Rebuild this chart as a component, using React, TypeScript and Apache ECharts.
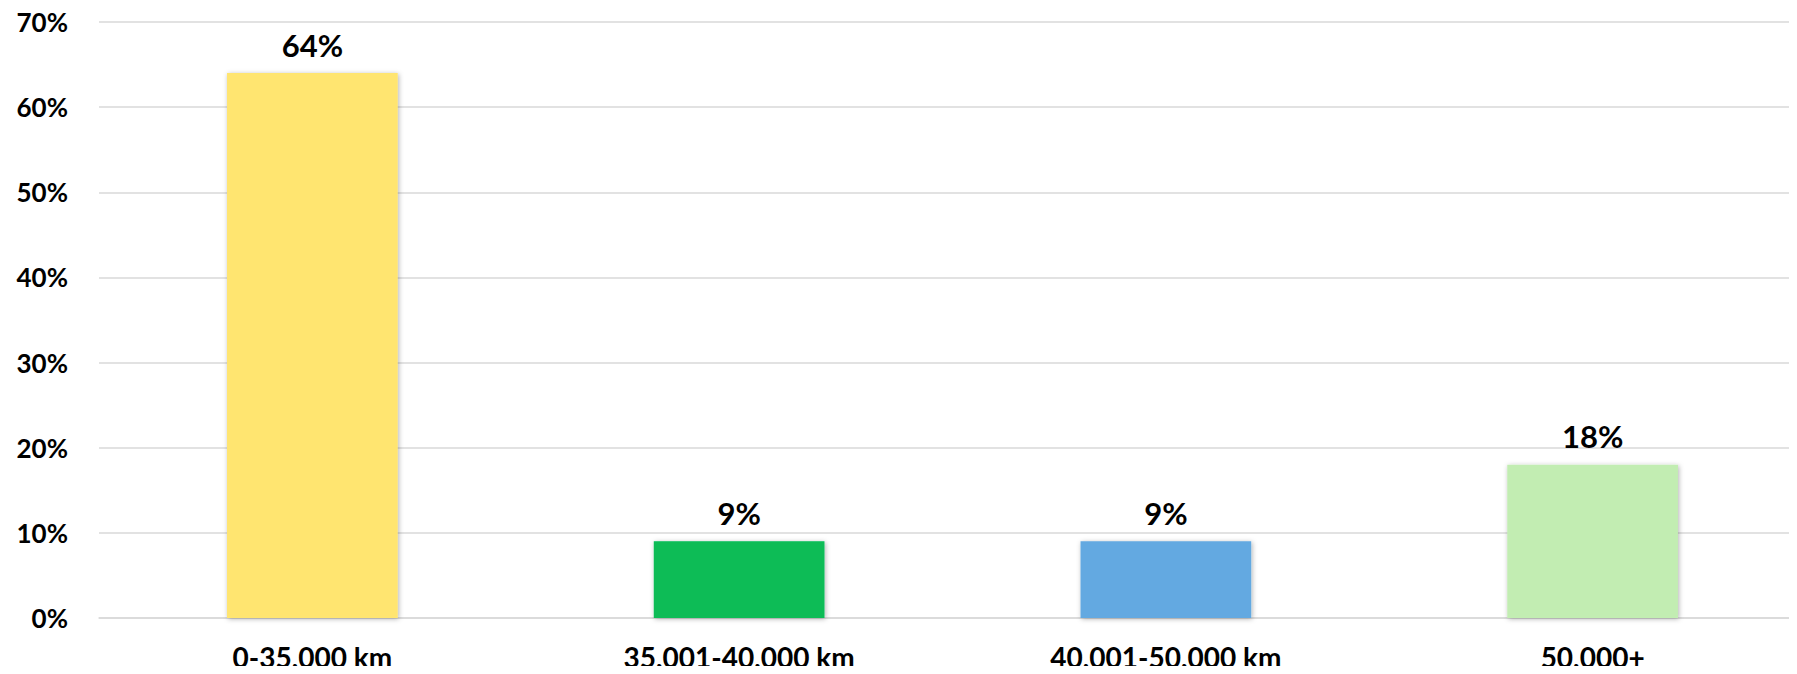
import React, { useEffect, useRef } from "react";
import * as echarts from "echarts";

const categories = ["0-35,000 km", "35,001-40,000 km", "40,001-50,000 km", "50,000+"];
const values = [64, 9, 9, 18];
const barColors = ["#FFE570", "#07BC57", "#63A9E1", "#C2EDB2"];
const yTicks = [0, 10, 20, 30, 40, 50, 60, 70];

const FONT = "Lato";

export default function App() {
  const ref = useRef<HTMLDivElement>(null);
  useEffect(() => {
    if (!ref.current) return;
    const chart = echarts.init(ref.current, null, { renderer: "svg" });
    chart.setOption({
      animation: false,
      backgroundColor: "#ffffff",
      grid: { left: 99, right: 0, top: 22, bottom: 56, containLabel: false },
      xAxis: {
        type: "category",
        data: categories,
        axisLine: { show: true, lineStyle: { color: "#d9d9d9", width: 1.5 } },
        axisTick: { show: false },
        axisLabel: {
          color: "#000",
          fontFamily: FONT,
          fontWeight: "bold",
          fontSize: 28,
          lineHeight: 28,
          margin: 25,
        },
      },
      yAxis: {
        type: "value",
        min: yTicks[0],
        max: yTicks[yTicks.length - 1],
        interval: 10,
        axisLine: { show: false },
        axisTick: { show: false },
        splitLine: { lineStyle: { color: "#d9d9d9", width: 1.5 } },
        axisLabel: {
          color: "#000",
          fontFamily: FONT,
          fontWeight: "bold",
          fontSize: 26,
          margin: 31,
          formatter: (v: number) => `${v}%`,
        },
      },
      series: [
        {
          type: "bar",
          barWidth: "40%",
          data: values.map((v, i) => ({
            value: v,
            itemStyle: {
              color: barColors[i],
              shadowBlur: 5,
              shadowColor: "rgba(0,0,0,0.3)",
              shadowOffsetX: 1,
              shadowOffsetY: 1,
            },
          })),
          label: {
            show: true,
            position: "top",
            distance: 13,
            color: "#000",
            fontFamily: FONT,
            fontWeight: "bold",
            fontSize: 31,
            formatter: (p: any) => `${p.value}%`,
          },
        },
      ],
    });
    return () => chart.dispose();
  }, []);
  return (
    <div style={{ width: 1797, height: 674, margin: -8, overflow: "hidden", position: "relative" }}>
      <div ref={ref} style={{ width: 1806, height: 674 }} />
    </div>
  );
}
